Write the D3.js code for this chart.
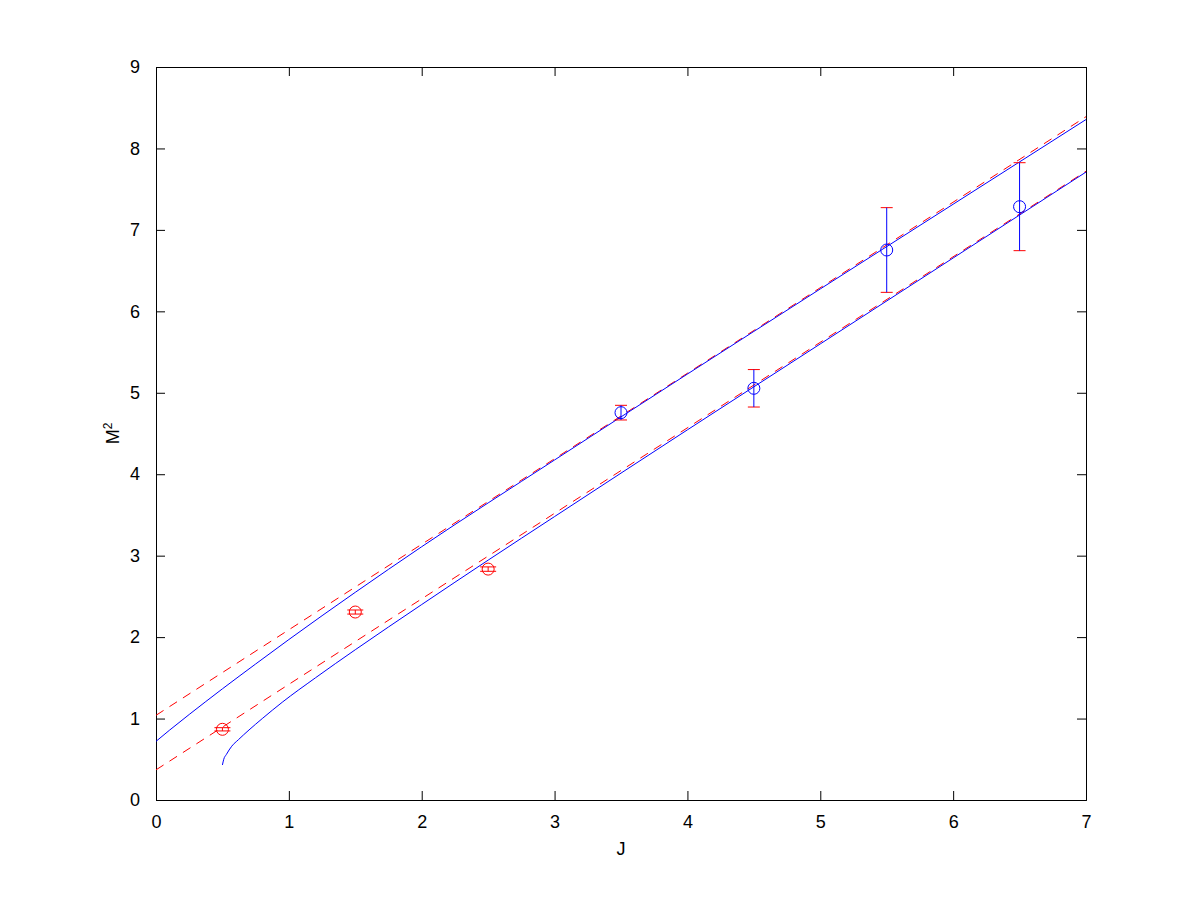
<!DOCTYPE html>
<html>
<head>
<meta charset="utf-8">
<script src="https://cdn.jsdelivr.net/npm/d3@7"></script>
<style>
  body { margin: 0; background: #fff; }
  text { font-family: "Liberation Sans", Arial, sans-serif; }
</style>
</head>
<body>
<script>
// measured points (J, M^2, error)
var redJ = [0.5, 1.5, 2.5];
var redM2 = [0.868, 2.308, 2.835];
var redErr = [0.02, 0.025, 0.027];

var blueJ = [3.5, 4.5, 5.5, 6.5];
var blueM2 = [4.756, 5.055, 6.753, 7.285];
var blueErr = [0.09, 0.23, 0.52, 0.54];

// fitted trajectories
var upperLineJ = [0, 7];
var upperLineM2 = [1.04, 8.39];
var lowerLineJ = [0, 7];
var lowerLineM2 = [0.37, 7.72];

var upperCurveJ = [0, 0.1, 0.25, 0.5, 0.75, 1, 1.5, 2, 3, 4, 5, 6, 7];
var upperCurveM2 = [0.72, 0.855, 1.05, 1.365, 1.67, 1.97, 2.55, 3.11, 4.175, 5.23, 6.275, 7.315, 8.355];
var lowerCurveJ = [0.5, 0.51, 0.53, 0.57, 0.62, 0.7, 0.8, 0.95, 1.2, 1.5, 2, 2.5, 3, 4, 5, 6, 7];
var lowerCurveM2 = [0.43, 0.5, 0.56, 0.66, 0.74, 0.86, 1.0, 1.2, 1.5, 1.845, 2.4, 2.945, 3.48, 4.545, 5.6, 6.655, 7.71];

var xTicks = [0, 1, 2, 3, 4, 5, 6, 7];
var yTicks = [0, 1, 2, 3, 4, 5, 6, 7, 8, 9];

var margin = { top: 67, right: 114, bottom: 100, left: 156 },
  width = 1200 - margin.left - margin.right,
  height = 900 - margin.top - margin.bottom;

var x = d3.scaleLinear().domain([0, 7]).range([0, width]);
var y = d3.scaleLinear().domain([0, 9]).range([height, 0]);

var svg = d3.select("body").append("svg")
  .attr("width", 1200)
  .attr("height", 900)
  .append("g")
  .attr("transform", "translate(" + margin.left + "," + margin.top + ")");

// axes with inward ticks on all four sides
var tickLen = 9;
svg.append("g")
  .attr("transform", "translate(0," + height + ")")
  .call(d3.axisBottom(x).tickValues(xTicks).tickSize(-tickLen).tickPadding(tickLen + 6).tickFormat(d3.format("d")));
svg.append("g")
  .call(d3.axisTop(x).tickValues(xTicks).tickSize(-tickLen).tickFormat(""));
svg.append("g")
  .call(d3.axisLeft(y).tickValues(yTicks).tickSize(-tickLen).tickPadding(tickLen + 7).tickFormat(d3.format("d")));
svg.append("g")
  .attr("transform", "translate(" + width + ",0)")
  .call(d3.axisRight(y).tickValues(yTicks).tickSize(-tickLen).tickFormat(""));

svg.selectAll(".domain").attr("stroke", "#000").attr("stroke-width", 1);
svg.selectAll(".tick line").attr("stroke", "#000");
svg.selectAll(".tick text").attr("fill", "#000").style("font-size", "18px");

// axis labels
svg.append("text")
  .attr("x", width / 2)
  .attr("y", height + 55)
  .style("text-anchor", "middle")
  .style("font-size", "18px")
  .text("J");

var yl = svg.append("text")
  .attr("transform", "translate(" + (-37) + "," + (height / 2) + ") rotate(-90)")
  .style("text-anchor", "middle")
  .style("font-size", "18px");
yl.append("tspan").text("M");
yl.append("tspan").attr("dy", "-0.55em").style("font-size", "12px").text("2");

function zip(a, b) { return a.map(function (d, i) { return [d, b[i]]; }); }

var straight = d3.line().x(function (d) { return x(d[0]); }).y(function (d) { return y(d[1]); });
var smooth = d3.line().curve(d3.curveMonotoneX).x(function (d) { return x(d[0]); }).y(function (d) { return y(d[1]); });

// red dashed linear fits
[zip(upperLineJ, upperLineM2), zip(lowerLineJ, lowerLineM2)].forEach(function (pts) {
  svg.append("path").datum(pts).attr("d", straight)
    .attr("fill", "none").attr("stroke", "#ff0000").attr("stroke-width", 1)
    .attr("stroke-dasharray", "9,7");
});

// blue model curves
[zip(upperCurveJ, upperCurveM2), zip(lowerCurveJ, lowerCurveM2)].forEach(function (pts) {
  svg.append("path").datum(pts).attr("d", smooth)
    .attr("fill", "none").attr("stroke", "#0000ff").attr("stroke-width", 1);
});

// error bars + markers
function drawPoints(J, M, E, barColor, capColor, markColor, capHalf) {
  var data = J.map(function (d, i) { return { j: d, m: M[i], e: E[i] }; });
  var g = svg.append("g");
  data.forEach(function (d) {
    var cx = x(d.j);
    g.append("line").attr("x1", cx - capHalf).attr("x2", cx + capHalf)
      .attr("y1", y(d.m + d.e)).attr("y2", y(d.m + d.e)).attr("stroke", capColor);
    g.append("line").attr("x1", cx - capHalf).attr("x2", cx + capHalf)
      .attr("y1", y(d.m - d.e)).attr("y2", y(d.m - d.e)).attr("stroke", capColor);
    g.append("line").attr("x1", cx).attr("x2", cx)
      .attr("y1", y(d.m + d.e)).attr("y2", y(d.m - d.e)).attr("stroke", barColor);
  });
  g.selectAll("circle").data(data).enter().append("circle")
    .attr("cx", function (d) { return x(d.j); })
    .attr("cy", function (d) { return y(d.m); })
    .attr("r", 6)
    .attr("fill", "none")
    .attr("stroke", markColor);
}

drawPoints(redJ, redM2, redErr, "#ff0000", "#ff0000", "#ff0000", 8);
drawPoints(blueJ, blueM2, blueErr, "#0000ff", "#ff0000", "#0000ff", 6);
</script>
</body>
</html>
